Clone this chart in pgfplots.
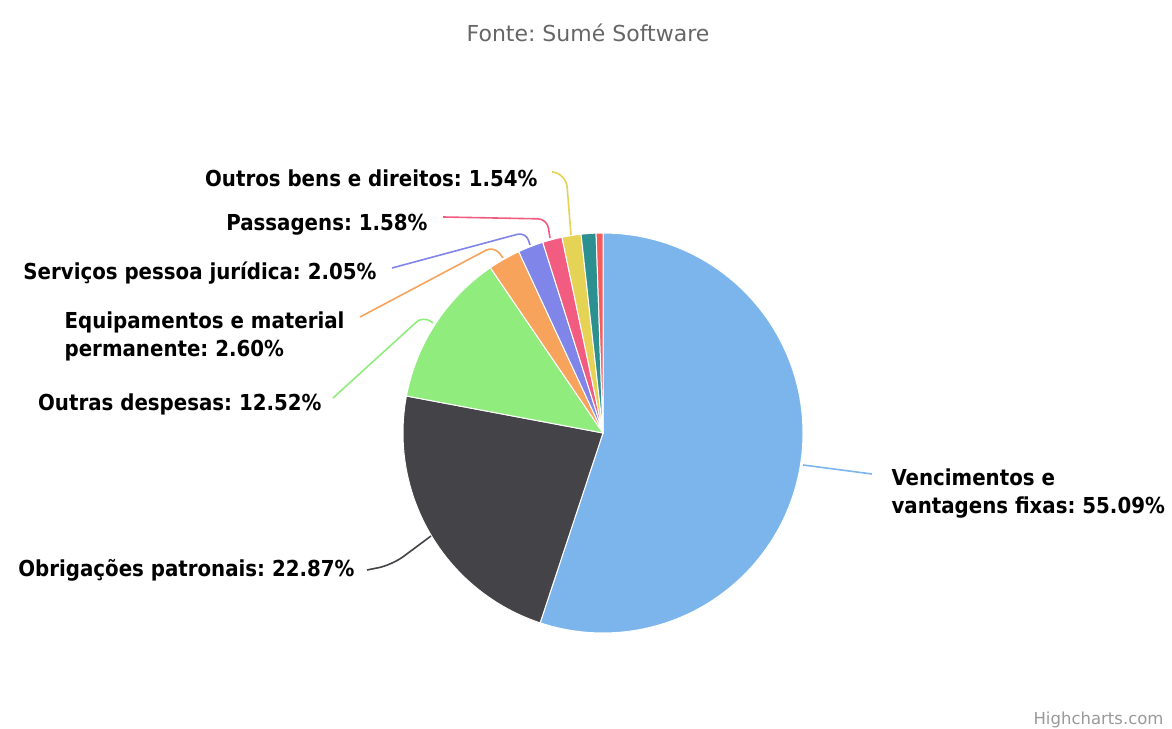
\documentclass[border=0pt]{standalone}
\usepackage{pgfplots}
\pgfplotsset{compat=1.18}
\usepackage{fontspec}
\setmainfont{DejaVu Sans}
\newfontfamily\lblfont{DejaVu Sans Condensed}
\frenchspacing
\definecolor{c1}{HTML}{7CB5EC}
\definecolor{c2}{HTML}{434348}
\definecolor{c3}{HTML}{90ED7D}
\definecolor{c4}{HTML}{F7A35C}
\definecolor{c5}{HTML}{8085E9}
\definecolor{c6}{HTML}{F15C80}
\definecolor{c7}{HTML}{E4D354}
\definecolor{c8}{HTML}{2B908F}
\definecolor{c9}{HTML}{F45B5B}
\definecolor{titlegray}{HTML}{666666}
\definecolor{creditgray}{HTML}{999999}
% slice: colour, start %, end %
\newcommand{\slice}[3]{%
  \addplot[fill=#1, draw=white, line width=1pt, domain=#2:#3, samples=120]
    ({603+200*cos(90-3.6*x)},{295+200*sin(90-3.6*x)}) -- (axis cs:603,295) -- cycle;
}
\begin{document}
\begin{tikzpicture}
\path[use as bounding box] (0,0) rectangle (1172pt,728pt);
\begin{axis}[
  at={(0,0)}, anchor=south west,
  x=1pt, y=1pt, xmin=0, xmax=1172, ymin=0, ymax=728,
  scale only axis, hide axis, clip=false,
  every node/.style={inner sep=0pt, outer sep=0pt},
  conn/.style={line width=1.6pt, no marks, rounded corners=9pt},
]
% shares (percent): 55.09, 22.87, 12.52, 2.60, 2.05, 1.58, 1.54, 1.20, 0.55
\slice{c1}{0}{55.09}
\slice{c2}{55.09}{77.96}
\slice{c3}{77.96}{90.48}
\slice{c4}{90.48}{93.08}
\slice{c5}{93.08}{95.13}
\slice{c6}{95.13}{96.71}
\slice{c7}{96.71}{98.25}
\slice{c8}{98.25}{99.45}
\slice{c9}{99.45}{100}

% connectors
\addplot[c1, conn] coordinates {(803,263) (872,254)};
\addplot[c2, conn, rounded corners=14pt] coordinates {(431,192) (392,163) (367,158)};
\addplot[c3, conn] coordinates {(433,405) (423,412) (333,330)};
\addplot[c4, conn] coordinates {(503,470) (494,482) (360,411)};
\addplot[c5, conn] coordinates {(530,483) (526,496) (392,460)};
\addplot[c6, conn] coordinates {(550,490) (547,509) (443,511)};
\addplot[c7, conn, rounded corners=14pt] coordinates {(571,493) (566,555) (553,556)};

% labels
\begin{scope}[every node/.append style={font=\lblfont\bfseries\fontsize{22}{28}\selectfont, text=black}]
\node[anchor=west, align=left] at (axis cs:888,234) {Vencimentos e\\vantagens fixas: 55.09\%};
\node[anchor=east] at (axis cs:358,158) {Obrigações patronais: 22.87\%};
\node[anchor=east] at (axis cs:325,324) {Outras despesas: 12.52\%};
\node[anchor=east, align=left] at (axis cs:348,392) {Equipamentos e material\\permanente: 2.60\%};
\node[anchor=east] at (axis cs:380,455) {Serviços pessoa jurídica: 2.05\%};
\node[anchor=east] at (axis cs:431,503) {Passagens: 1.58\%};
\node[anchor=east] at (axis cs:541,550) {Outros bens e direitos: 1.54\%};
\end{scope}

\node[font=\fontsize{22}{26}\selectfont, text=titlegray] at (axis cs:588,695) {Fonte: Sumé Software};
\node[anchor=east, font=\fontsize{16.5}{20}\selectfont, text=creditgray] at (axis cs:1167,8) {Highcharts.com};
\end{axis}
\end{tikzpicture}
\end{document}
